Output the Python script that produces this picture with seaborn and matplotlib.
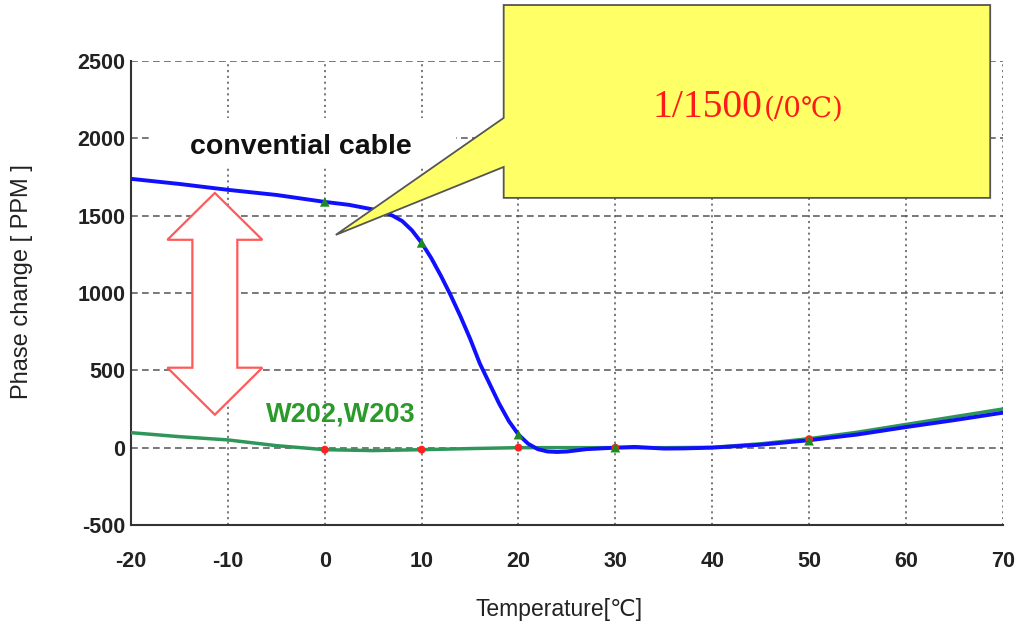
import matplotlib
matplotlib.use("Agg")
import matplotlib.pyplot as plt
import seaborn as sns
import pandas as pd
from matplotlib.patches import Polygon, Rectangle

# ---------------- data ----------------
conv_x = [-20, -15, -10, -5, 0, 2.5, 5, 6, 7, 8, 9, 10, 11, 12, 13, 14, 15, 16, 17, 18, 19, 20,
          21, 22, 23, 24, 25, 27, 30, 32, 35, 37, 40, 45, 50, 55, 60, 65, 70]
conv_y = [1738, 1705, 1667, 1634, 1589, 1570, 1540, 1525, 1500, 1465, 1405, 1324, 1225, 1110,
          985, 850, 705, 545, 415, 285, 172, 84, 25, -10, -25, -28, -25, -10, 0, 5, -6, -5,
          0, 19, 48, 85, 133, 178, 226]

w_x = [-20, -15, -10, -5, 0, 5, 10, 15, 20, 25, 30, 35, 40, 45, 50, 55, 60, 65, 70]
w_y = [97, 71, 50, 13, -13, -19, -13, -6, 0, 0, 0, 0, 2, 25, 58, 100, 150, 200, 250]

tri_x = [0, 10, 20, 30, 50]
tri_y = [1589, 1324, 84, 0, 45]
dot_x = [0, 10, 20, 30, 50]
dot_y = [-13, -13, 0, 0, 55]

x_ticks = [-20, -10, 0, 10, 20, 30, 40, 50, 60, 70]
y_ticks = [-500, 0, 500, 1000, 1500, 2000, 2500]

conv_label = "convential cable"
w_label = "W202,W203"
box_big = "1/1500"
box_small = "(/0℃)"
x_title = "Temperature[℃]"
y_title = "Phase change [ PPM ]"

# ---------------- style ----------------
sns.set_theme(style="white")
plt.rcParams["font.family"] = ["Liberation Sans", "DejaVu Sans", "Noto Sans CJK JP"]
plt.rcParams["axes.unicode_minus"] = False

fig = plt.figure(figsize=(10.16, 6.27), dpi=100)
ax = fig.add_axes([0.129, 0.1627, 0.858, 0.74])

grid_col = "#555555"
for y in y_ticks:
    ax.axhline(y, color=grid_col, lw=1.1, ls=(0, (4.4, 2.8)), zorder=0.5)
for x in x_ticks:
    ax.axvline(x, color=grid_col, lw=1.1, ls=(0, (1.4, 2.4)), zorder=0.5)

# white label backing
ax.add_patch(Rectangle((-17.96, 1828), 31.5, 304, facecolor="white",
                       edgecolor="none", zorder=1))

df_conv = pd.DataFrame({"x": conv_x, "y": conv_y})
df_w = pd.DataFrame({"x": w_x, "y": w_y})
sns.lineplot(data=df_w, x="x", y="y", ax=ax, color="#2f9659", lw=2.5, zorder=3)
sns.lineplot(data=df_conv, x="x", y="y", ax=ax, color="#1010ff", lw=2.8, zorder=4)

sns.scatterplot(x=dot_x, y=dot_y, ax=ax, color="#ff2020", s=32, edgecolor="none", zorder=5)
sns.scatterplot(x=tri_x, y=tri_y, ax=ax, color="#1f8a1f", marker="^", s=48,
                edgecolor="none", zorder=6)

ax.set_xlim(-20, 70)
ax.set_ylim(-500, 2500)
ax.set_xticks(x_ticks)
ax.set_yticks(y_ticks)
ax.tick_params(axis="both", direction="in", length=5, width=1.2, color="#444444",
               labelsize=15.5, labelcolor="#222222")
for lab in ax.get_xticklabels() + ax.get_yticklabels():
    lab.set_fontweight("bold")
ax.tick_params(axis="x", pad=19)
ax.tick_params(axis="y", pad=4)

for s in ["top", "right"]:
    ax.spines[s].set_visible(False)
for s in ["left", "bottom"]:
    ax.spines[s].set_color("#333333")
    ax.spines[s].set_linewidth(1.5)

ax.set_xlabel(x_title, fontsize=16.5, color="#222222")
ax.set_ylabel(y_title, fontsize=17, color="#222222")
ax.xaxis.set_label_coords(0.491, -0.157)
ax.yaxis.set_label_coords(-0.113, 0.524)

# annotations
ax.text(-2.5, 1945, conv_label, fontsize=20.5, fontweight="bold", color="#111111",
        ha="center", va="center", zorder=7)
ax.text(1.65, 213, w_label, fontsize=19.5, fontweight="bold", color="#2a9a2a",
        ha="center", va="center", zorder=7)

# double arrow
cx, hw, sw = -11.35, 4.9, 2.32
top, hb_top, hb_bot, bot = 1647, 1344, 517, 213
arrow = Polygon([(cx, top), (cx + hw, hb_top), (cx + sw, hb_top), (cx + sw, hb_bot),
                 (cx + hw, hb_bot), (cx, bot), (cx - hw, hb_bot), (cx - sw, hb_bot),
                 (cx - sw, hb_top), (cx - hw, hb_top)], closed=True,
                facecolor="white", edgecolor="#ff5a5a", lw=1.6, zorder=6)
ax.add_patch(arrow)

# callout box
bx0, bx1, by0, by1 = 18.47, 68.7, 1615, 2862
callout = Polygon([(bx0, by1), (bx1, by1), (bx1, by0), (bx0, by0), (bx0, 1815),
                   (1.14, 1376), (bx0, 2132)], closed=True,
                  facecolor="#ffff66", edgecolor="#555555", lw=1.3, zorder=8,
                  clip_on=False)
ax.add_patch(callout)
serif = ["Liberation Serif", "DejaVu Serif", "Noto Sans CJK JP"]
ax.text(45.2, 2138, box_big, fontsize=28.5, color="#ff1a1a", ha="right", va="baseline",
        family=serif, zorder=9, clip_on=False)
ax.text(45.3, 2138, box_small, fontsize=20, color="#ff1a1a", ha="left", va="baseline",
        family=["DejaVu Serif", "Noto Sans CJK JP"], zorder=9, clip_on=False)

fig.savefig("out.png", dpi=100, facecolor="white")
